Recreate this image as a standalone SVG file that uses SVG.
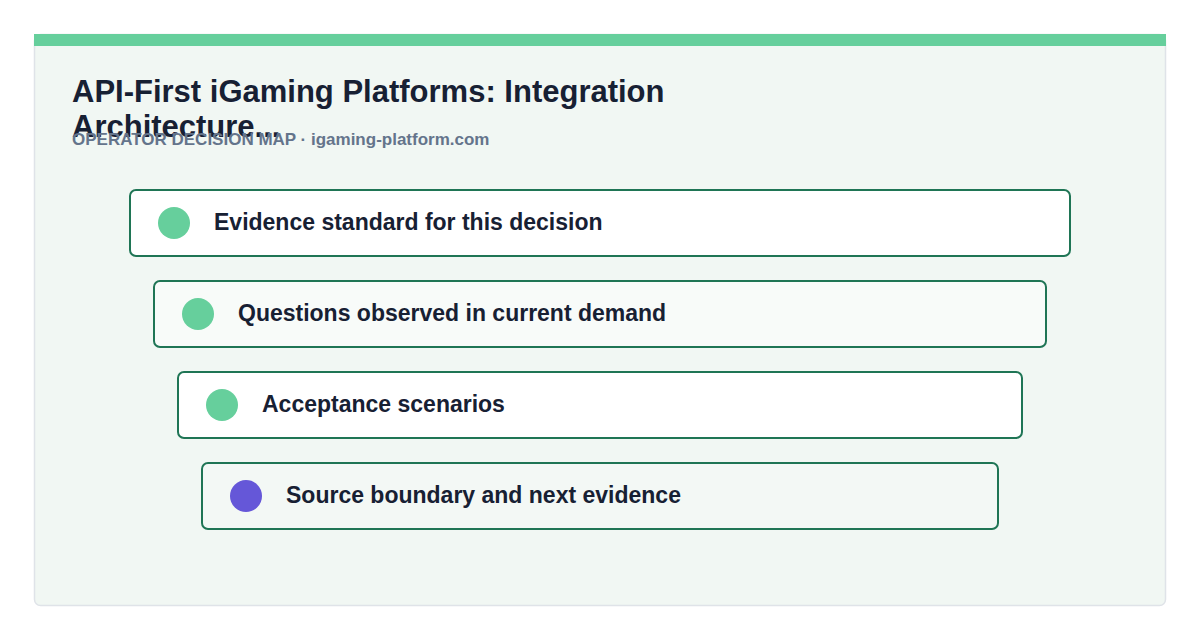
<svg xmlns="http://www.w3.org/2000/svg" width="1200" height="640" viewBox="0 0 1200 640">
<style>
.title{font-family:"Liberation Sans",Arial,sans-serif;font-weight:700;font-size:31px;fill:#172033}
.sub{font-family:"Liberation Sans",Arial,sans-serif;font-weight:700;font-size:17px;fill:#64748b}
.box{stroke:#1f7555;stroke-width:2}
.lbl{font-family:"Liberation Sans",Arial,sans-serif;font-weight:700;font-size:23px;fill:#172033}
</style>
<rect x="0" y="0" width="1200" height="640" fill="#ffffff"/>
<rect x="34.5" y="34.5" width="1131" height="571" rx="6" fill="#f1f7f3" stroke="#dfe3e8" stroke-width="1.5"/>
<rect x="34" y="34" width="1132" height="12" fill="#66cf9c"/>
<text class="title" x="72" y="102">API-First iGaming Platforms: Integration</text>
<text class="title" x="72" y="137">Architecture...</text>
<text class="sub" x="72" y="145">OPERATOR DECISION MAP · igaming-platform.com</text>
<g id="connectors"></g>
<g id="node1">
<rect class="box" x="130" y="190" width="940" height="66" rx="6" fill="#ffffff"/>
<circle cx="174" cy="223" r="16" fill="#66cf9c"/>
<text class="lbl" x="214" y="230">Evidence standard for this decision</text>
</g>
<g id="node2">
<rect class="box" x="154" y="281" width="892" height="66" rx="6" fill="#f8fbf9"/>
<circle cx="198" cy="314" r="16" fill="#66cf9c"/>
<text class="lbl" x="238" y="321">Questions observed in current demand</text>
</g>
<g id="node3">
<rect class="box" x="178" y="372" width="844" height="66" rx="6" fill="#ffffff"/>
<circle cx="222" cy="405" r="16" fill="#66cf9c"/>
<text class="lbl" x="262" y="412">Acceptance scenarios</text>
</g>
<g id="node4">
<rect class="box" x="202" y="463" width="796" height="66" rx="6" fill="#f3f8f5"/>
<circle cx="246" cy="496" r="16" fill="#6557d8"/>
<text class="lbl" x="286" y="503">Source boundary and next evidence</text>
</g>
</svg>
